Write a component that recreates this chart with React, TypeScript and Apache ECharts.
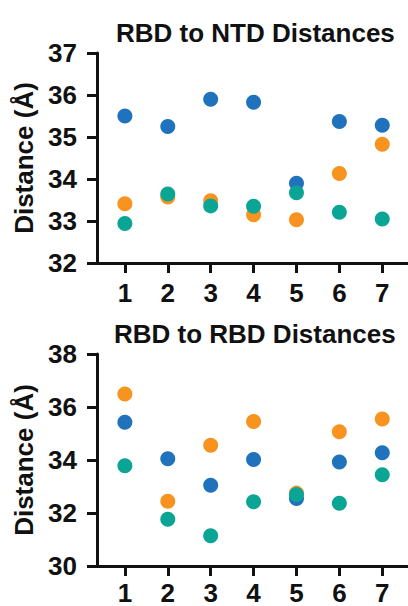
import React, { useEffect, useRef } from "react";
import * as echarts from "echarts";

const categories = [1, 2, 3, 4, 5, 6, 7];

const ntdBlue = [35.5, 35.25, 35.9, 35.83, 33.9, 35.37, 35.28];
const ntdOrange = [33.41, 33.57, 33.48, 33.15, 33.03, 34.13, 34.83];
const ntdTeal = [32.94, 33.64, 33.36, 33.35, 33.67, 33.21, 33.05];

const rbdBlue = [35.42, 34.05, 33.05, 34.02, 32.55, 33.92, 34.27];
const rbdOrange = [36.49, 32.44, 34.56, 35.45, 32.75, 35.07, 35.55];
const rbdTeal = [33.78, 31.76, 31.14, 32.42, 32.7, 32.37, 33.44];

const titles = ["RBD to NTD Distances", "RBD to RBD Distances"];
const yName = "Distance (Å)";

const BLUE = "#1f72bb";
const ORANGE = "#f7931e";
const TEAL = "#0aa595";
const FONT = "'Liberation Sans', Arial, Helvetica, sans-serif";

const pairs = (vals: number[]) => categories.map((c, i) => [c, vals[i]]);

export default function App() {
  const ref = useRef<HTMLDivElement>(null);
  useEffect(() => {
    document.body.style.margin = "0";
    const chart = echarts.init(ref.current!, undefined, { renderer: "svg" });
    const axisLine = { show: true, lineStyle: { color: "#111", width: 3 } };
    const axisTick = { show: true, length: 10, lineStyle: { color: "#111", width: 3 } };
    const labelStyle = { color: "#111", fontSize: 26, fontWeight: "bold" as const, fontFamily: FONT };
    const xAxisBase = (gridIndex: number, margin: number) => ({
      type: "value" as const,
      gridIndex,
      min: 0.35,
      max: 7.6,
      axisLine,
      axisTick: { ...axisTick, customValues: categories },
      axisLabel: { ...labelStyle, margin, customValues: categories },
      splitLine: { show: false },
    });
    const yAxisBase = (gridIndex: number, min: number, max: number, interval: number) => ({
      type: "value" as const,
      gridIndex,
      min,
      max,
      interval,
      name: yName,
      nameLocation: "middle" as const,
      nameRotate: 90,
      nameGap: 57,
      nameTextStyle: { ...labelStyle },
      axisLine,
      axisTick,
      axisLabel: { ...labelStyle, margin: 20 },
      splitLine: { show: false },
    });
    const sc = (name: string, color: string, vals: number[], idx: number) => ({
      type: "scatter" as const,
      name,
      xAxisIndex: idx,
      yAxisIndex: idx,
      symbol: "circle",
      symbolSize: 15,
      itemStyle: { color, opacity: 1 },
      data: pairs(vals),
    });
    const titleStyle = { color: "#111", fontSize: 26, fontWeight: "bold" as const, fontFamily: FONT };
    chart.setOption({
      animation: false,
      backgroundColor: "#fff",
      title: [
        { text: titles[0], left: 116, top: 20, padding: 0, textStyle: titleStyle },
        { text: titles[1], left: 114, top: 321, padding: 0, textStyle: titleStyle },
      ],
      grid: [
        { left: 97, top: 53, right: 0, height: 210 },
        { left: 97, top: 354, right: 0, height: 212 },
      ],
      xAxis: [xAxisBase(0, 17), xAxisBase(1, 14)],
      yAxis: [yAxisBase(0, 32, 37, 1), yAxisBase(1, 30, 38, 2)],
      series: [
        sc("blue", BLUE, ntdBlue, 0),
        sc("orange", ORANGE, ntdOrange, 0),
        sc("teal", TEAL, ntdTeal, 0),
        sc("blue", BLUE, rbdBlue, 1),
        sc("orange", ORANGE, rbdOrange, 1),
        sc("teal", TEAL, rbdTeal, 1),
      ],
    });
    return () => chart.dispose();
  }, []);
  return <div ref={ref} style={{ width: 408, height: 606 }} />;
}
